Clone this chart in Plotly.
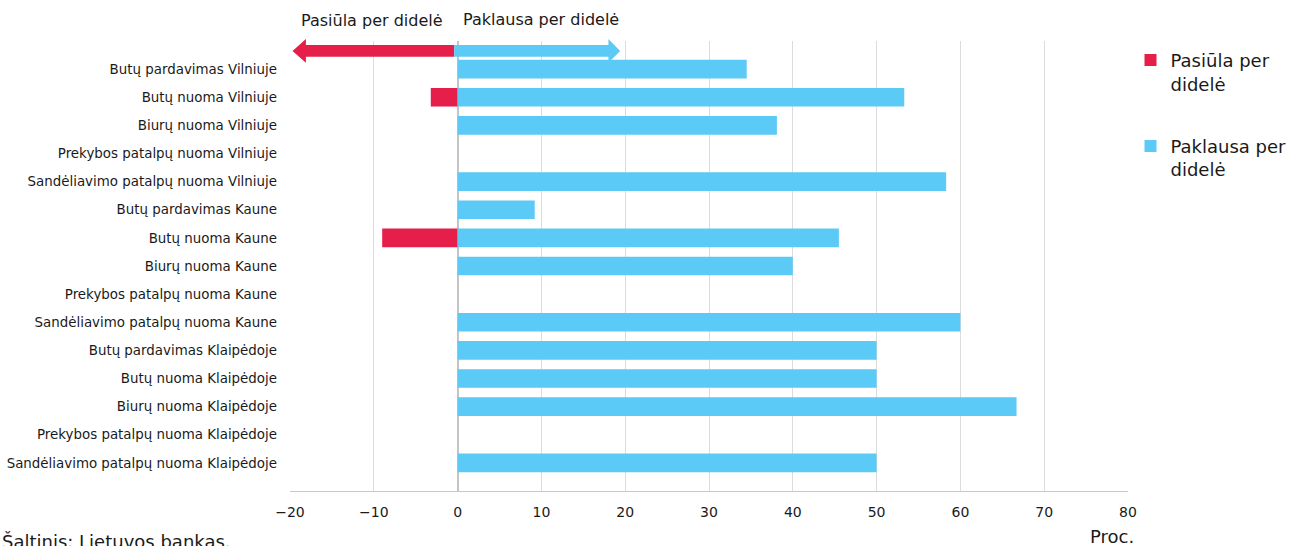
import plotly.graph_objects as go

categories = [
    "Butų pardavimas Vilniuje",
    "Butų nuoma Vilniuje",
    "Biurų nuoma Vilniuje",
    "Prekybos patalpų nuoma Vilniuje",
    "Sandėliavimo patalpų nuoma Vilniuje",
    "Butų pardavimas Kaune",
    "Butų nuoma Kaune",
    "Biurų nuoma Kaune",
    "Prekybos patalpų nuoma Kaune",
    "Sandėliavimo patalpų nuoma Kaune",
    "Butų pardavimas Klaipėdoje",
    "Butų nuoma Klaipėdoje",
    "Biurų nuoma Klaipėdoje",
    "Prekybos patalpų nuoma Klaipėdoje",
    "Sandėliavimo patalpų nuoma Klaipėdoje",
]
supply_excess = [0, -3.2, 0, 0, 0, 0, -9.0, 0, 0, 0, 0, 0, 0, 0, 0]
demand_excess = [34.5, 53.3, 38.1, 0, 58.3, 9.2, 45.5, 40.0, 0, 60.0, 50.0, 50.0, 66.7, 0, 50.0]
x_ticks = [-20, -10, 0, 10, 20, 30, 40, 50, 60, 70, 80]

RED = "#e51e4a"
BLUE = "#5ccaf6"
FONT = "DejaVu Sans"
TXT = "#1a1a1a"

fig = go.Figure()
fig.add_trace(go.Bar(
    y=categories, x=supply_excess, orientation="h", name="Pasiūla per<br>didelė",
    marker=dict(color=RED, line=dict(width=0)), width=0.66, legendgroup="a",
))
fig.add_trace(go.Bar(
    y=categories, x=demand_excess, orientation="h", name="Paklausa per<br>didelė",
    marker=dict(color=BLUE, line=dict(width=0)), width=0.66, legendgroup="b",
))

# arrows (shapes) in data x / paper y
yc = 0.978
sh = 0.0130
hh = 0.0265
red_path = (f"M -0.4,{yc-sh} L -18.1,{yc-sh} L -18.1,{yc-hh} L -19.7,{yc} "
            f"L -18.1,{yc+hh} L -18.1,{yc+sh} L -0.4,{yc+sh} Z")
blue_path = (f"M -0.4,{yc-sh} L 18.0,{yc-sh} L 18.0,{yc-hh} L 19.4,{yc} "
             f"L 18.0,{yc+hh} L 18.0,{yc+sh} L -0.4,{yc+sh} Z")
fig.add_shape(type="path", path=red_path, xref="x", yref="paper",
              fillcolor=RED, line=dict(width=0), layer="above")
fig.add_shape(type="path", path=blue_path, xref="x", yref="paper",
              fillcolor=BLUE, line=dict(width=0), layer="above")

annots = [
    dict(text="Pasiūla per didelė", x=-10.2, y=1.045, xref="x", yref="paper",
         xanchor="center", yanchor="middle", showarrow=False,
         font=dict(size=16, color=TXT, family=FONT)),
    dict(text="Paklausa per didelė", x=10.0, y=1.047, xref="x", yref="paper",
         xanchor="center", yanchor="middle", showarrow=False,
         font=dict(size=16, color=TXT, family=FONT)),
    dict(text="Šaltinis: Lietuvos bankas.", x=-0.346, y=-0.112, xref="paper", yref="paper",
         xanchor="left", yanchor="middle", showarrow=False,
         font=dict(size=18, color=TXT, family=FONT)),
    dict(text="Proc.", x=1.01, y=-0.1, xref="paper", yref="paper",
         xanchor="right", yanchor="middle", showarrow=False,
         font=dict(size=18, color=TXT, family=FONT)),
]

fig.update_layout(
    width=1303, height=546,
    margin=dict(l=290, r=175, t=41, b=55, autoexpand=False),
    paper_bgcolor="white", plot_bgcolor="white",
    barmode="relative", bargap=0.34,
    font=dict(family=FONT, color=TXT),
    annotations=annots,
    legend=dict(
        x=1.003, y=0.998, xanchor="left", yanchor="top",
        font=dict(size=18, color=TXT, family=FONT),
        tracegroupgap=36, valign="top", itemwidth=30,
        bgcolor="rgba(0,0,0,0)",
    ),
    xaxis=dict(
        range=[-20, 80], tickvals=x_ticks,
        showgrid=True, gridcolor="#dcdcdc", gridwidth=1,
        zeroline=True, zerolinecolor="#c4c4c4", zerolinewidth=2,
        showline=True, linecolor="#c8c8c8", linewidth=1,
        ticks="", ticklabelstandoff=8,
        tickfont=dict(size=14, color=TXT, family=FONT),
    ),
    yaxis=dict(
        type="category", categoryorder="array", categoryarray=categories,
        range=[15, -1], showgrid=False, zeroline=False, showline=False,
        ticks="", ticklabelstandoff=12,
        tickfont=dict(size=13.4, color=TXT, family=FONT),
    ),
)

fig.write_html("out.html")
